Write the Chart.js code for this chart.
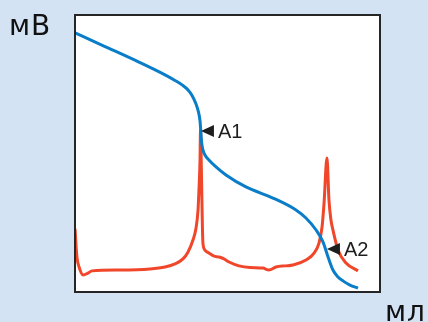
<!DOCTYPE html>
<html>
<head>
<meta charset="utf-8">
<script src="https://cdn.jsdelivr.net/npm/chart.js@4/dist/chart.umd.min.js"></script>
<style>
  html, body { margin: 0; padding: 0; background: #d4e3f4; }
  #wrap { width: 428px; height: 322px; position: relative; }
</style>
</head>
<body>
<div id="wrap"><canvas id="c" width="428" height="322"></canvas></div>
<script>
// Titration: added volume (мл) vs electrode potential, plus its derivative
const volumeE = [0.07, 2.02, 4.23, 5.93, 6.58, 7.04, 7.43, 7.69, 7.95, 8.11, 8.21, 8.26, 8.31, 8.40, 8.53, 8.79, 9.25, 9.90, 11.20, 12.96, 14.46, 15.11, 15.77, 16.22, 16.55, 16.87, 17.20, 17.52, 17.98, 18.50];
const potential = [93.2, 88.3, 82.7, 78.1, 76.1, 74.5, 72.7, 70.7, 67.6, 64.7, 61.5, 57.9, 54.0, 51.1, 49.3, 47.5, 45.0, 42.1, 37.8, 33.8, 29.5, 26.6, 22.3, 18.0, 12.6, 7.9, 5.4, 4.0, 2.5, 1.4];

const volumeD = [0.07, 0.13, 0.20, 0.33, 0.59, 0.91, 1.17, 3.00, 4.95, 5.93, 6.58, 7.10, 7.43, 7.75, 7.95, 8.08, 8.14, 8.21, 8.24, 8.31, 8.37, 8.40, 8.53, 8.79, 9.12, 9.45, 9.77, 10.10, 10.75, 11.47, 12.31, 12.70, 13.16, 13.75, 14.27, 15.11, 15.64, 15.96, 16.16, 16.29, 16.48, 16.61, 16.74, 16.87, 17.20, 17.72, 18.50];
const derivative = [22.7, 16.9, 12.2, 9.0, 6.1, 6.8, 7.6, 7.9, 8.3, 9.0, 10.1, 11.9, 14.4, 18.7, 23.0, 29.5, 36.7, 47.5, 58.3, 40.3, 22.3, 17.6, 15.1, 14.0, 12.9, 12.6, 11.9, 10.8, 9.4, 8.8, 8.6, 7.9, 9.0, 9.4, 9.7, 11.5, 14.0, 17.6, 23.4, 32.0, 48.2, 33.1, 25.9, 22.3, 15.1, 10.4, 7.6];

// Equivalence points
const eqLabels = ['A1', 'A2'];
const eqVolume = [8.27, 16.48];
const eqPotential = [57.9, 15.5];

const axisLabelY = 'мВ';
const axisLabelX = 'мл';

const toPoints = (xs, ys) => xs.map((x, i) => ({ x: x, y: ys[i] }));

const frameAndLabels = {
  id: 'frameAndLabels',
  afterDatasetsDraw(chart) {
    const { ctx, chartArea: a, scales } = chart;
    ctx.save();
    // plot frame
    ctx.strokeStyle = '#262626';
    ctx.lineWidth = 2;
    ctx.strokeRect(a.left + 1, a.top + 1, a.right - a.left - 2, a.bottom - a.top - 1);

    // equivalence point markers
    ctx.fillStyle = '#1e1e1e';
    ctx.font = '20px "Liberation Sans", Arial, sans-serif';
    ctx.textBaseline = 'alphabetic';
    eqLabels.forEach((lbl, i) => {
      const px = scales.x.getPixelForValue(eqVolume[i]);
      const py = scales.y.getPixelForValue(eqPotential[i]);
      ctx.beginPath();
      ctx.moveTo(px, py);
      ctx.lineTo(px + 13, py - 6);
      ctx.lineTo(px + 13, py + 6);
      ctx.closePath();
      ctx.fill();
      ctx.fillText(lbl, px + 17, py + 7);
    });

    // axis unit labels
    ctx.fillStyle = '#111';
    ctx.font = '28px "DejaVu Sans", sans-serif';
    if ('letterSpacing' in ctx) ctx.letterSpacing = '1px';
    ctx.fillText(axisLabelY, 9, 35);
    ctx.fillText(axisLabelX, 385, 321);
    ctx.restore();
  }
};

new Chart(document.getElementById('c'), {
  type: 'line',
  data: {
    datasets: [
      {
        label: 'E',
        data: toPoints(volumeE, potential),
        borderColor: '#0a7dc8',
        borderWidth: 3,
        pointRadius: 0,
        cubicInterpolationMode: 'monotone',
        fill: false
      },
      {
        label: 'dE/dV',
        data: toPoints(volumeD, derivative),
        borderColor: '#f0462a',
        borderWidth: 3,
        pointRadius: 0,
        cubicInterpolationMode: 'monotone',
        fill: false
      }
    ]
  },
  options: {
    responsive: false,
    animation: false,
    events: [],
    layout: { padding: { left: 74, right: 47, top: 14, bottom: 30 } },
    scales: {
      x: { type: 'linear', min: 0, max: 20, display: false },
      y: { type: 'linear', min: 0, max: 100, display: false }
    },
    plugins: {
      legend: { display: false },
      tooltip: { enabled: false },
      title: { display: false }
    }
  },
  plugins: [{
    id: 'whiteArea',
    beforeDraw(chart) {
      const { ctx, chartArea: a } = chart;
      ctx.save();
      ctx.fillStyle = '#ffffff';
      ctx.fillRect(a.left, a.top, a.right - a.left, a.bottom - a.top);
      ctx.restore();
    }
  }, frameAndLabels]
});
</script>
</body>
</html>
